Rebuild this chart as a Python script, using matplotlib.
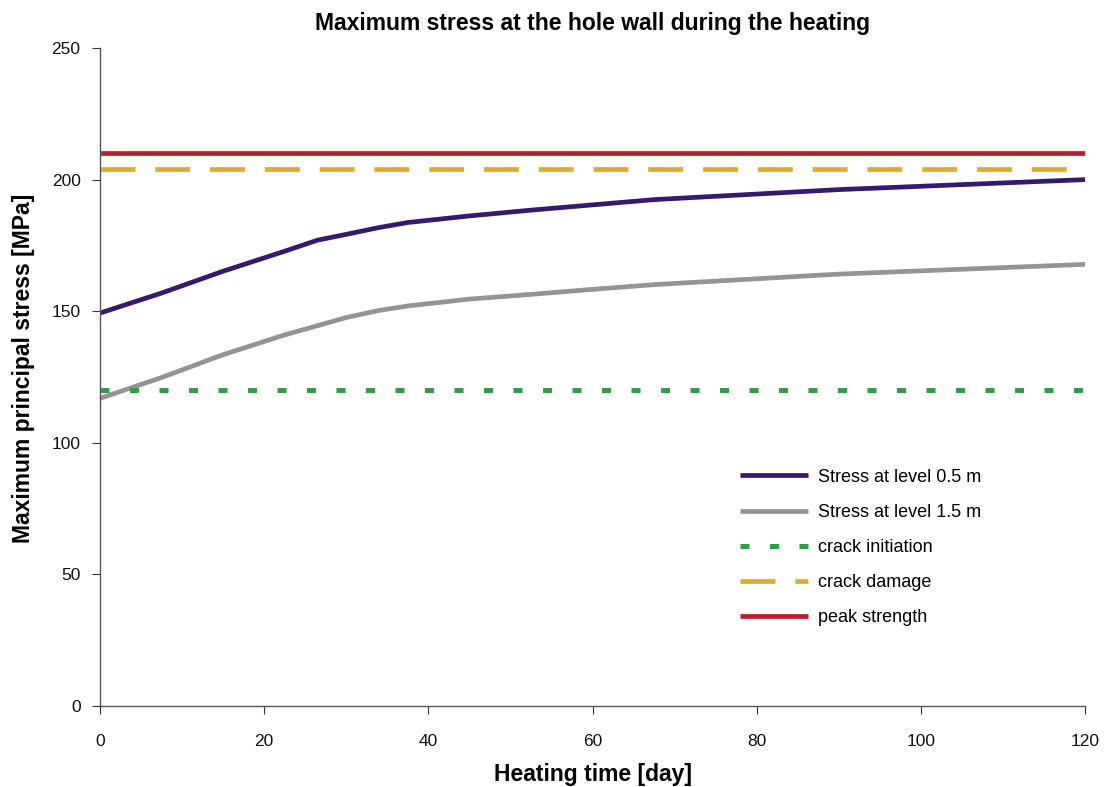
import matplotlib
matplotlib.use("Agg")
import matplotlib.pyplot as plt

plt.rcParams['font.family'] = ['Liberation Sans', 'DejaVu Sans']

# Data
time_days = [0, 7.5, 15, 22.5, 26.5, 30, 34, 37.5, 45, 52.5, 60, 67.5, 90, 120]
stress_05 = [149.3, 156.9, 165.2, 172.8, 177.0, 179.2, 181.8, 183.7, 186.2, 188.4, 190.4, 192.4, 196.2, 200.0]
time_days_15 = [0, 7.5, 15, 22.5, 30, 34, 37.5, 45, 52.5, 60, 67.5, 90, 120]
stress_15 = [116.9, 124.8, 133.5, 141.0, 147.6, 150.3, 152.0, 154.6, 156.4, 158.3, 160.1, 164.1, 167.8]
crack_initiation = 120
crack_damage = 204
peak_strength = 210
x_range = [0, 120]

fig = plt.figure(figsize=(11.05, 7.87), dpi=100)
ax = fig.add_axes([0.0905, 0.1029, 0.8915, 0.8361])

lw = 3.4
ax.plot(time_days, stress_05, color='#36196F', lw=lw, label='Stress at level 0.5 m', solid_capstyle='butt')
ax.plot(time_days_15, stress_15, color='#949498', lw=lw, label='Stress at level 1.5 m', solid_capstyle='butt')
ax.plot(x_range, [crack_initiation] * 2, color='#2F9E44', lw=3.6, dashes=(1.8, 4.1),
        label='crack initiation')
ax.plot(x_range, [crack_damage] * 2, color='#DBAD2F', lw=3.4, dashes=(7.4, 4.2),
        label='crack damage')
ax.plot(x_range, [peak_strength] * 2, color='#BD1B2E', lw=3.4, label='peak strength',
        solid_capstyle='butt')

ax.set_xlim(0, 120)
ax.set_ylim(0, 250)
ax.set_xticks(range(0, 121, 20))
ax.set_yticks(range(0, 251, 50))
for s in ['top', 'right']:
    ax.spines[s].set_visible(False)
for s in ['left', 'bottom']:
    ax.spines[s].set_color('#555555')
    ax.spines[s].set_linewidth(1.0)
ax.tick_params(axis='both', direction='out', length=6, width=0.8, color='#333333',
               labelsize=12.5, labelcolor='#111111')
ax.tick_params(axis='x', pad=14)
ax.tick_params(axis='y', pad=8)

ax.set_title('Maximum stress at the hole wall during the heating', fontsize=16.5,
             fontweight='bold', pad=13)
ax.set_xlabel('Heating time [day]', fontsize=16.5, fontweight='bold', labelpad=10)
ax.set_ylabel('Maximum principal stress [MPa]', fontsize=16.5, fontweight='bold', labelpad=12)
ax.yaxis.label.set_y(0.513)

leg = ax.legend(loc='upper left', bbox_to_anchor=(0.655, 0.425), bbox_transform=fig.transFigure,
                frameon=False, fontsize=13, handlelength=3.77, handletextpad=0.55,
                labelspacing=1.0)

fig.savefig('out.png', dpi=100)
